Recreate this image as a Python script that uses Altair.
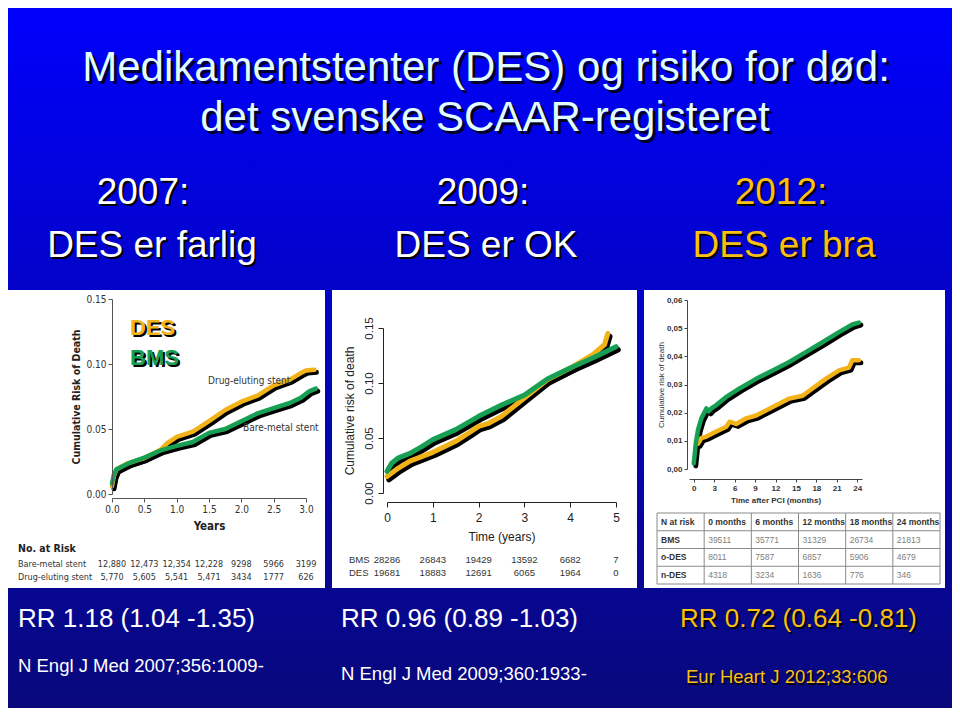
import altair as alt
import pandas as pd

# ---------------- data ----------------
# Panel 1: N Engl J Med 2007 (years, cumulative risk of death)
p1_des_years = [0.0, 0.03, 0.07, 0.25, 0.5, 0.75, 0.85, 1.0, 1.25, 1.5, 1.75, 2.0, 2.25, 2.5, 2.75, 2.92, 3.0, 3.13]
p1_des_risk = [0.006, 0.014, 0.019, 0.0238, 0.0276, 0.034, 0.039, 0.044, 0.048, 0.056, 0.0646, 0.071, 0.0757, 0.0835, 0.088, 0.093, 0.095, 0.0956]
p1_bms_years = [0.0, 0.03, 0.07, 0.25, 0.5, 0.75, 1.0, 1.25, 1.5, 1.75, 2.0, 2.25, 2.5, 2.75, 2.92, 3.05, 3.15]
p1_bms_risk = [0.008, 0.015, 0.019, 0.0235, 0.028, 0.0335, 0.037, 0.040, 0.047, 0.050, 0.056, 0.062, 0.066, 0.070, 0.074, 0.079, 0.081]
p1_ticks = [0.0, 0.5, 1.0, 1.5, 2.0, 2.5, 3.0]
p1_yticks = [0.0, 0.05, 0.10, 0.15]
p1_risk_bms = ["12,880", "12,473", "12,354", "12,228", "9298", "5966", "3199"]
p1_risk_des = ["5,770", "5,605", "5,541", "5,471", "3434", "1777", "626"]

# Panel 2: N Engl J Med 2009
p2_des_years = [0.0, 0.25, 0.5, 1.0, 1.5, 1.8, 2.0, 2.2, 2.5, 3.0, 3.5, 4.0, 4.5, 4.75, 4.82]
p2_des_risk = [0.015, 0.0227, 0.029, 0.037, 0.047, 0.055, 0.0606, 0.063, 0.0697, 0.0864, 0.103, 0.1136, 0.126, 0.135, 0.145]
p2_bms_years = [0.0, 0.1, 0.25, 0.5, 0.75, 1.0, 1.5, 2.0, 2.5, 3.0, 3.5, 4.0, 4.5, 5.0]
p2_bms_risk = [0.0197, 0.027, 0.032, 0.036, 0.042, 0.0485, 0.0576, 0.0697, 0.080, 0.089, 0.1036, 0.1136, 0.123, 0.133]
p2_ticks = [0, 1, 2, 3, 4, 5]
p2_yticks = [0.0, 0.05, 0.10, 0.15]
p2_risk_bms = ["28286", "26843", "19429", "13592", "6682", "7"]
p2_risk_des = ["19681", "18883", "12691", "6065", "1964", "0"]

# Panel 3: Eur Heart J 2012 (months)
p3_bms_months = [0.0, 0.29, 0.63, 1.12, 1.85, 2.2, 2.58, 3.31, 4.77, 6.72, 9.15, 11.59, 14.02, 16.45, 18.89, 21.32, 23.27, 24.24]
p3_bms_risk = [0.002, 0.009, 0.014, 0.018, 0.0215, 0.0205, 0.0215, 0.0227, 0.0256, 0.0286, 0.032, 0.035, 0.038, 0.0415, 0.045, 0.0486, 0.0513, 0.052]
p3_des_months = [0.63, 1.12, 1.85, 3.31, 4.77, 5.26, 6.23, 7.69, 9.15, 11.59, 14.02, 15.97, 17.43, 19.37, 21.32, 22.78, 23.27, 24.24]
p3_des_risk = [0.009, 0.011, 0.0115, 0.0133, 0.015, 0.0168, 0.016, 0.018, 0.019, 0.022, 0.025, 0.026, 0.0286, 0.032, 0.035, 0.036, 0.0386, 0.0386]
p3_ticks = [0, 3, 6, 9, 12, 15, 18, 21, 24]
p3_yticks = [0.0, 0.01, 0.02, 0.03, 0.04, 0.05, 0.06]
p3_header = ["N at risk", "0 months", "6 months", "12 months", "18 months", "24 months"]
p3_row_labels = ["BMS", "o-DES", "n-DES"]
p3_bms_at_risk = ["39511", "35771", "31329", "26734", "21813"]
p3_odes_at_risk = ["8011", "7587", "6857", "5906", "4679"]
p3_ndes_at_risk = ["4318", "3234", "1636", "776", "346"]

# slide texts
title_lines = ["Medikamentstenter (DES) og risiko for død:", "det svenske SCAAR-registeret"]
years = ["2007:", "2009:", "2012:"]
verdicts = ["DES er farlig", "DES er OK", "DES er bra"]
rr_texts = ["RR 1.18 (1.04 -1.35)", "RR 0.96 (0.89 -1.03)", "RR 0.72 (0.64 -0.81)"]
citations = ["N Engl J Med 2007;356:1009-", "N Engl J Med 2009;360:1933-", "Eur Heart J 2012;33:606"]

# ---------------- style ----------------
SLIDE_FONT = "Liberation Sans, Arial, Helvetica, sans-serif"
NARROW_FONT = "Liberation Sans Narrow, DejaVu Sans Condensed, Arial Narrow, Liberation Sans, sans-serif"
GOLD = "#fbbf14"
YELLOW = "#f2b319"
GREEN = "#17a054"
TITLE_COL = "#e2fdff"

W = 944
TOP_H = 282
MID_H = 298
BOT_H = 120


def grad(c0, c1):
    return alt.Gradient(
        gradient="linear",
        stops=[alt.GradientStop(color=c0, offset=0), alt.GradientStop(color=c1, offset=1)],
        x1=0, x2=0, y1=0, y2=1,
    )


def one():
    return pd.DataFrame({"k": [0]})


def bg_rect(w, h, c0, c1):
    return alt.Chart(one()).mark_rect(fill=grad(c0, c1)).encode(
        x=alt.value(0), x2=alt.value(w), y=alt.value(0), y2=alt.value(h))


def white_rect(x0, x1, h):
    return alt.Chart(one()).mark_rect(fill="white").encode(
        x=alt.value(x0), x2=alt.value(x1), y=alt.value(0), y2=alt.value(h))


def text_layers(label, x, y, size, color, font=SLIDE_FONT, weight="normal",
                align="left", baseline="alphabetic", shadow=None):
    d = pd.DataFrame({"label": [label]})
    out = []
    if shadow is not None:
        out.append(alt.Chart(d).mark_text(
            font=font, fontSize=size, fontWeight=weight, color=shadow[2],
            align=align, baseline=baseline, dx=shadow[0], dy=shadow[1],
        ).encode(x=alt.value(x), y=alt.value(y), text="label:N"))
    out.append(alt.Chart(d).mark_text(
        font=font, fontSize=size, fontWeight=weight, color=color,
        align=align, baseline=baseline,
    ).encode(x=alt.value(x), y=alt.value(y), text="label:N"))
    return out


def km(x, y, color, X, Y, lw, off):
    d = pd.DataFrame({"t": x, "r": y})
    shadow = alt.Chart(d).mark_line(
        color="black", strokeWidth=lw + 0.5, xOffset=off[0], yOffset=off[1],
        strokeCap="round", strokeJoin="round").encode(x=X, y=Y)
    line = alt.Chart(d).mark_line(
        color=color, strokeWidth=lw, strokeCap="round", strokeJoin="round").encode(x=X, y=Y)
    return shadow, line


def risk_row(ticks, values, y, X, size, font, color):
    d = pd.DataFrame({"t": ticks, "n": values})
    return alt.Chart(d).mark_text(
        font=font, fontSize=size, color=color, align="center", baseline="middle"
    ).encode(x=X, y=alt.value(y), text="n:N")


MID_C0 = "#0303c9"
MID_C1 = "#070792"

# ---------------- top ----------------
top_layers = [bg_rect(W, TOP_H, "#0000fc", MID_C0)]
top_layers += text_layers(title_lines[0], 478, 73, 42, TITLE_COL, align="center", shadow=(3, 3, "#000028"))
top_layers += text_layers(title_lines[1], 477, 123, 42, TITLE_COL, align="center", shadow=(3, 3, "#000028"))
for i, (cx_year, cx_verdict) in enumerate([(135, 144), (475, 478), (773, 776)]):
    col = GOLD if i == 2 else "white"
    top_layers += text_layers(years[i], cx_year, 196, 37, col, align="center", shadow=(2, 2, "#000000"))
    top_layers += text_layers(verdicts[i], cx_verdict, 249, 37, col, align="center", shadow=(2, 2, "#000000"))
top = alt.layer(*top_layers).properties(width=W, height=TOP_H)

# ---------------- panel 1 ----------------
p1_xs = alt.Scale(domain=[0, 3], range=[104, 298])
p1_ys = alt.Scale(domain=[0, 0.15], range=[204, 9])
ax_common1 = dict(labelFont=NARROW_FONT, labelFontSize=10, labelColor="#333333",
                  domainColor="#555555", tickColor="#555555", tickSize=4, labelPadding=2,
                  grid=False, titleFont=NARROW_FONT, titleColor="#222222", titleFontWeight="bold",
                  zindex=2, labelFlush=False, labelOverlap=False)
X1 = alt.X("t:Q", scale=p1_xs, axis=alt.Axis(values=p1_ticks, format=".1f", offset=-90,
                                             title="Years", titleFontSize=11.5, titlePadding=6, **ax_common1))
Y1 = alt.Y("r:Q", scale=p1_ys, axis=alt.Axis(values=p1_yticks, format=".2f", offset=-104,
                                             title="Cumulative Risk of Death", titleFontSize=10.5,
                                             titlePadding=4, **ax_common1))
s1d, l1d = km(p1_des_years, p1_des_risk, YELLOW, X1, Y1, 4.5, (2, 2.5))
s1b, l1b = km(p1_bms_years, p1_bms_risk, GREEN, X1, Y1, 4.5, (2, 2.5))
p1_layers = [bg_rect(320, MID_H, MID_C0, MID_C1), white_rect(0, 317, MID_H), s1d, s1b, l1d, l1b]
p1_layers += text_layers("DES", 122, 45, 22, YELLOW, weight="bold", shadow=(2, 2, "#000000"))
p1_layers += text_layers("BMS", 122, 75, 22, GREEN, weight="bold", shadow=(2, 2, "#000000"))
p1_layers += text_layers("Drug-eluting stent", 200, 94, 10, "#333333", font=NARROW_FONT)
p1_layers += text_layers("Bare-metal stent", 235, 141, 10, "#333333", font=NARROW_FONT)
p1_layers += text_layers("No. at Risk", 10, 259, 10.5, "#222222", font=NARROW_FONT, weight="bold", baseline="middle")
p1_layers += text_layers("Bare-metal stent", 10, 274, 9, "#333333", font=NARROW_FONT, baseline="middle")
p1_layers += text_layers("Drug-eluting stent", 10, 287, 9, "#333333", font=NARROW_FONT, baseline="middle")
p1_layers.append(risk_row(p1_ticks, p1_risk_bms, 274, X1, 9, NARROW_FONT, "#333333"))
p1_layers.append(risk_row(p1_ticks, p1_risk_des, 287, X1, 9, NARROW_FONT, "#333333"))
panel1 = alt.layer(*p1_layers).properties(width=320, height=MID_H)

# ---------------- panel 2 ----------------
p2_xs = alt.Scale(domain=[0, 5], range=[59, 288])
p2_ys = alt.Scale(domain=[0, 0.15], range=[203, 38])
ax_common2 = dict(labelFont=SLIDE_FONT, labelColor="#222222", domainColor="#222222",
                  tickColor="#222222", tickSize=5, grid=False, titleFont=SLIDE_FONT,
                  titleColor="#222222", titleFontWeight="normal", titleFontSize=12, zindex=2,
                  labelFlush=False, labelOverlap=False)
X2 = alt.X("t:Q", scale=p2_xs, axis=alt.Axis(values=p2_ticks, format="d", offset=-86, labelFontSize=12,
                                             labelPadding=5, title="Time (years)", titlePadding=8, **ax_common2))
Y2 = alt.Y("r:Q", scale=p2_ys, axis=alt.Axis(values=p2_yticks, format=".2f", offset=-55, labelFontSize=11.5,
                                             labelAngle=270, labelAlign="center", labelBaseline="bottom",
                                             labelPadding=4, title="Cumulative risk of death",
                                             titlePadding=7, **ax_common2))
s2d, l2d = km(p2_des_years, p2_des_risk, YELLOW, X2, Y2, 5, (2, 3))
s2b, l2b = km(p2_bms_years, p2_bms_risk, GREEN, X2, Y2, 5, (2, 3))
p2_layers = [bg_rect(313, MID_H, MID_C0, MID_C1), white_rect(4, 309, MID_H), s2d, s2b, l2d, l2b]
p2_layers += text_layers("BMS", 21, 270, 9.5, "#333333", baseline="middle")
p2_layers += text_layers("DES", 21, 283, 9.5, "#333333", baseline="middle")
p2_layers.append(risk_row(p2_ticks, p2_risk_bms, 270, X2, 9.5, SLIDE_FONT, "#333333"))
p2_layers.append(risk_row(p2_ticks, p2_risk_des, 283, X2, 9.5, SLIDE_FONT, "#333333"))
panel2 = alt.layer(*p2_layers).properties(width=313, height=MID_H)

# ---------------- panel 3 ----------------
p3_xs = alt.Scale(domain=[-0.7, 24.7], range=[48, 221])
p3_ys = alt.Scale(domain=[0, 0.06], range=[179, 10])
ax_common3 = dict(labelFont=SLIDE_FONT, labelColor="#333333", labelFontWeight="bold", labelFontSize=8,
                  domainColor="#444444", tickColor="#444444", tickSize=3, labelPadding=2, grid=False,
                  titleFont=SLIDE_FONT, titleColor="#333333", titleFontSize=8, zindex=2,
                  labelFlush=False, labelOverlap=False)
X3 = alt.X("t:Q", scale=p3_xs, axis=alt.Axis(values=p3_ticks, format="d", offset=-109,
                                             title="Time after PCI (months)", titleFontWeight="bold",
                                             titlePadding=4, **ax_common3))
Y3 = alt.Y("r:Q", scale=p3_ys, axis=alt.Axis(values=p3_yticks, offset=-46,
                                             labelExpr="replace(format(datum.value, '.2f'), '.', ',')",
                                             title="Cumulative risk of death", titleFontWeight="normal",
                                             titlePadding=1, **ax_common3))
s3d, l3d = km(p3_des_months, p3_des_risk, YELLOW, X3, Y3, 4.5, (2, 2.5))
s3b, l3b = km(p3_bms_months, p3_bms_risk, GREEN, X3, Y3, 4.5, (2, 2.5))
curves3 = alt.layer(s3d, s3b, l3d, l3b)

TX = alt.Scale(domain=[0, 6], range=[16, 299])
TY = alt.Scale(domain=[0, 4], range=[223, 294])
col_edges = pd.DataFrame({"e": list(range(7))})
row_edges = pd.DataFrame({"e": list(range(5))})
vrules = alt.Chart(col_edges).mark_rule(color="#8a8a8a", strokeWidth=1).encode(
    x=alt.X("e:Q", scale=TX, axis=None), y=alt.value(223), y2=alt.value(294))
hrules = alt.Chart(row_edges).mark_rule(color="#8a8a8a", strokeWidth=1).encode(
    y=alt.Y("e:Q", scale=TY, axis=None), x=alt.value(16), x2=alt.value(299))
hdr = pd.DataFrame({"c": list(range(6)), "r": [0.5] * 6, "s": p3_header})
lbl = pd.DataFrame({"c": [0] * 3, "r": [1.5, 2.5, 3.5], "s": p3_row_labels})
vals = pd.DataFrame({
    "c": list(range(1, 6)) * 3,
    "r": [1.5] * 5 + [2.5] * 5 + [3.5] * 5,
    "s": p3_bms_at_risk + p3_odes_at_risk + p3_ndes_at_risk,
})
tbl_hdr = alt.Chart(pd.concat([hdr, lbl])).mark_text(
    font=SLIDE_FONT, fontSize=8.5, fontWeight="bold", color="#333333", align="left", baseline="middle", dx=4
).encode(x=alt.X("c:Q", scale=TX, axis=None), y=alt.Y("r:Q", scale=TY, axis=None), text="s:N")
tbl_val = alt.Chart(vals).mark_text(
    font=SLIDE_FONT, fontSize=8.5, color="#808080", align="left", baseline="middle", dx=4
).encode(x=alt.X("c:Q", scale=TX, axis=None), y=alt.Y("r:Q", scale=TY, axis=None), text="s:N")
table3 = alt.layer(vrules, hrules, tbl_hdr, tbl_val)

panel3 = alt.layer(
    bg_rect(311, MID_H, MID_C0, MID_C1), white_rect(3, 304, MID_H), curves3, table3
).resolve_scale(x="independent", y="independent").properties(width=311, height=MID_H)

# ---------------- bottom ----------------
bot_layers = [bg_rect(W, BOT_H, MID_C1, "#08087b")]
bot_layers += text_layers(rr_texts[0], 10, 39, 26, "white")
bot_layers += text_layers(rr_texts[1], 333, 39, 26, "white")
bot_layers += text_layers(rr_texts[2], 672, 39, 26, GOLD, shadow=(2, 2, "#000000"))
bot_layers += text_layers(citations[0], 10, 84, 18.5, "white")
bot_layers += text_layers(citations[1], 333, 92, 18.5, "white")
bot_layers += text_layers(citations[2], 678, 95, 18.5, GOLD, shadow=(1.5, 1.5, "#000000"))
bottom = alt.layer(*bot_layers).properties(width=W, height=BOT_H)

chart = alt.vconcat(
    top,
    alt.hconcat(panel1, panel2, panel3, spacing=0),
    bottom,
    spacing=0,
).properties(padding=0, background="#0505ad").configure_view(strokeWidth=0)

chart.save("out.html", embed_options={"renderer": "svg", "actions": False})
